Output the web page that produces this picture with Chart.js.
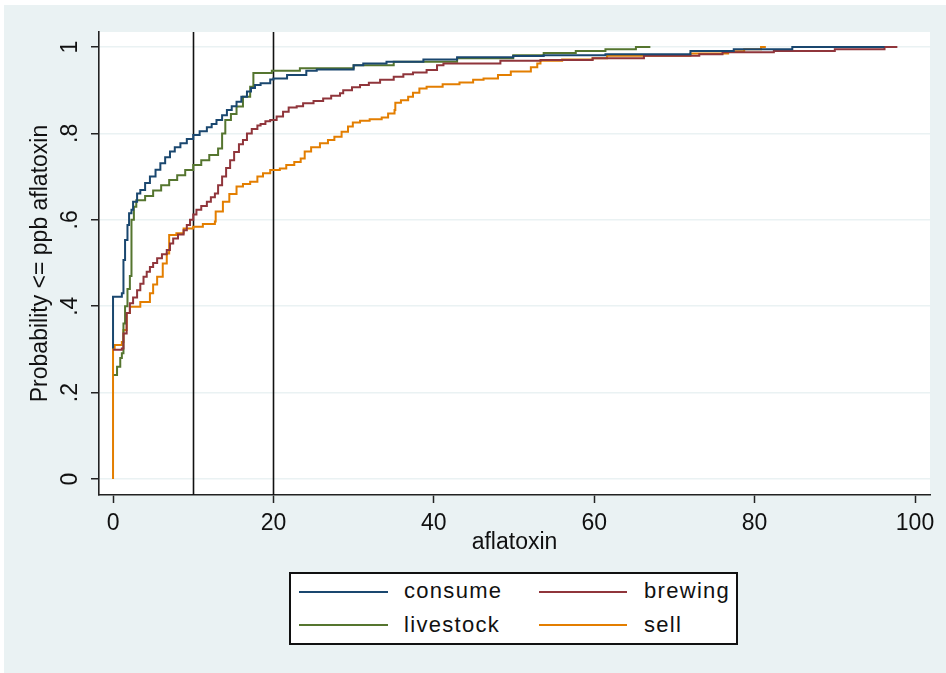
<!DOCTYPE html>
<html lang="en">
<head>
    <meta charset="UTF-8">
    <title>Aflatoxin CDF by use</title>
    <script src="https://cdn.jsdelivr.net/npm/chart.js"></script>
    <style>
        body {
            margin: 0;
            background: #ffffff;
            font-family: "Liberation Sans", Arial, sans-serif;
        }
        .wrap {
            position: absolute;
            left: 4px;
            top: 5px;
            width: 942px;
            height: 668px;
            background: #eaf2f3;
        }
        .legend-box {
            position: absolute;
            left: 285px;
            top: 567px;
            width: 449px;
            height: 73px;
            box-sizing: border-box;
            border: 2px solid #111;
            background: #fff;
        }
        .legend-box .swatch {
            position: absolute;
            height: 2px;
        }
        .legend-box .label {
            position: absolute;
            font-size: 22px;
            line-height: 22px;
            letter-spacing: 1.3px;
            color: #111;
            white-space: nowrap;
        }
    </style>
</head>
<body>
    <div class="wrap">
        <canvas id="cdfChart" width="942" height="668"></canvas>
        <div class="legend-box" id="legend"></div>
    </div>

    <script>
        const FONT = '"Liberation Sans", Arial, sans-serif';

        // axis ticks
        const xTicks = [0, 20, 40, 60, 80, 100];
        const yTicks = [0, 0.2, 0.4, 0.6, 0.8, 1];
        const yTickLabels = ['0', '.2', '.4', '.6', '.8', '1'];
        const xLines = [10, 20];

        // series: [aflatoxin ppb, cumulative probability] at each jump
        const consume = [
            [0, 0.302], [0, 0.422], [1.1, 0.43], [1.3, 0.507], [1.5, 0.553], [1.8, 0.588],
            [2.0, 0.615], [2.3, 0.623], [2.5, 0.642], [3.0, 0.661], [3.4, 0.669], [4.0, 0.685],
            [4.6, 0.70], [5.3, 0.716], [5.9, 0.731], [6.5, 0.745], [7.1, 0.758], [7.7, 0.768],
            [8.4, 0.777], [9.2, 0.787], [10.0, 0.796], [10.8, 0.805], [11.7, 0.814], [12.3, 0.822],
            [12.9, 0.831], [13.6, 0.842], [14.2, 0.854], [14.8, 0.863], [15.4, 0.873], [16.0, 0.885],
            [16.7, 0.897], [17.2, 0.905], [17.7, 0.912], [18.4, 0.916], [19.6, 0.925], [20.0, 0.927],
            [21.7, 0.935], [24.1, 0.945], [25.4, 0.948], [30.0, 0.958], [31.2, 0.962], [34.1, 0.966],
            [38.7, 0.971], [42.9, 0.976], [49.9, 0.979], [53.7, 0.981], [61.4, 0.983], [72.0, 0.991],
            [77.4, 0.995], [84.7, 1.0], [96.2, 1.0]
        ];
        const brewing = [
            [0, 0.299], [1.1, 0.302], [1.3, 0.337], [1.7, 0.384], [2.1, 0.407], [2.5, 0.42],
            [3.0, 0.437], [3.4, 0.452], [3.8, 0.468], [4.2, 0.48], [4.6, 0.491], [5.0, 0.50],
            [5.5, 0.511], [6.1, 0.52], [6.7, 0.530], [7.1, 0.545], [7.5, 0.557], [8.1, 0.566],
            [8.8, 0.576], [9.2, 0.588], [9.6, 0.600], [10.0, 0.612], [10.4, 0.623], [11.0, 0.632],
            [11.7, 0.642], [12.2, 0.652], [12.7, 0.661], [13.1, 0.68], [13.6, 0.70], [14.1, 0.72],
            [14.6, 0.738], [15.1, 0.757], [15.7, 0.775], [16.2, 0.785], [16.7, 0.80], [17.3, 0.81],
            [18.0, 0.818], [18.4, 0.822], [19.0, 0.828], [19.6, 0.831], [20.4, 0.839], [21.2, 0.850],
            [21.9, 0.860], [22.9, 0.863], [23.7, 0.870], [25.0, 0.875], [26.2, 0.881], [27.2, 0.887],
            [28.3, 0.893], [28.7, 0.900], [29.8, 0.907], [30.8, 0.912], [31.9, 0.917], [33.3, 0.924],
            [35.0, 0.931], [36.2, 0.937], [37.4, 0.941], [39.1, 0.947], [40.4, 0.958], [41.2, 0.962],
            [48.3, 0.968], [53.3, 0.970], [59.8, 0.974], [66.2, 0.980], [73.1, 0.983], [76.0, 0.988],
            [82.4, 0.991], [90.0, 0.995], [96.2, 1.0], [97.8, 1.0]
        ];
        const livestock = [
            [0.1, 0.241], [0.5, 0.26], [0.9, 0.28], [1.1, 0.291], [1.3, 0.36], [1.5, 0.40],
            [1.8, 0.44], [2.1, 0.47], [2.3, 0.60], [2.6, 0.63], [2.9, 0.645], [4.0, 0.655],
            [5.0, 0.668], [6.0, 0.680], [7.0, 0.692], [8.0, 0.703], [9.0, 0.715], [10.0, 0.727],
            [11.0, 0.738], [12.0, 0.750], [13.1, 0.765], [13.6, 0.80], [14.0, 0.831], [14.7, 0.845],
            [15.4, 0.862], [16.2, 0.885], [17.1, 0.908], [17.5, 0.94], [19.8, 0.945], [23.3, 0.951],
            [30.0, 0.958], [35.0, 0.966], [42.9, 0.974], [49.9, 0.981], [53.7, 0.986], [57.7, 0.991],
            [61.4, 0.995], [65.2, 1.0], [67.0, 1.0]
        ];
        const sell = [
            [0, 0], [0, 0.302], [0.2, 0.31], [1.1, 0.317], [1.3, 0.345], [1.7, 0.384],
            [2.1, 0.399], [3.4, 0.41], [4.6, 0.43], [5.0, 0.45], [5.5, 0.468], [6.2, 0.499],
            [6.7, 0.522], [7.0, 0.565], [7.9, 0.569], [8.8, 0.580], [10.0, 0.584], [11.2, 0.590],
            [12.7, 0.596], [12.8, 0.619], [13.7, 0.642], [14.5, 0.66], [15.4, 0.677], [16.2, 0.683],
            [17.1, 0.688], [18.0, 0.70], [18.7, 0.708], [19.6, 0.715], [20.8, 0.719], [21.6, 0.727],
            [22.6, 0.734], [23.4, 0.742], [23.9, 0.758], [24.7, 0.768], [25.8, 0.777], [26.8, 0.785],
            [27.6, 0.792], [28.5, 0.804], [29.3, 0.816], [29.9, 0.825], [30.8, 0.829], [32.0, 0.833],
            [33.5, 0.837], [34.3, 0.846], [35.1, 0.854], [35.2, 0.871], [35.9, 0.877], [36.8, 0.885],
            [37.4, 0.894], [38.2, 0.904], [39.1, 0.908], [41.1, 0.914], [43.2, 0.918], [44.9, 0.924],
            [46.2, 0.927], [48.0, 0.935], [49.6, 0.943], [52.1, 0.953], [52.9, 0.962], [53.3, 0.968],
            [56.0, 0.971], [59.8, 0.974], [61.6, 0.980], [72.0, 0.985], [76.7, 0.99], [78.7, 0.995],
            [80.8, 1.0], [81.4, 1.0]
        ];

        const toPoints = rows => rows.map(([x, y]) => ({ x, y }));

        const datasets = [
            { label: 'consume', data: toPoints(consume), borderColor: '#1a476f' },
            { label: 'brewing', data: toPoints(brewing), borderColor: '#90353b' },
            { label: 'livestock', data: toPoints(livestock), borderColor: '#55752f' },
            { label: 'sell', data: toPoints(sell), borderColor: '#e37e00' }
        ].map(d => Object.assign(d, { stepped: true, borderWidth: 2, pointRadius: 0, fill: false }));

        // white plot region
        const plotRegion = {
            id: 'plotRegion',
            beforeDraw(chart) {
                const { ctx, chartArea: a } = chart;
                ctx.save();
                ctx.fillStyle = '#ffffff';
                ctx.fillRect(a.left, a.top, a.right - a.left, a.bottom - a.top);
                ctx.restore();
            }
        };

        // black reference lines at 10 and 20 ppb
        const refLines = {
            id: 'refLines',
            beforeDatasetsDraw(chart) {
                const { ctx, chartArea: a, scales: { x } } = chart;
                ctx.save();
                ctx.strokeStyle = '#111';
                ctx.lineWidth = 1.6;
                xLines.forEach(v => {
                    const px = Math.round(x.getPixelForValue(v)) + 0.5;
                    ctx.beginPath();
                    ctx.moveTo(px, a.top);
                    ctx.lineTo(px, a.bottom);
                    ctx.stroke();
                });
                ctx.restore();
            }
        };

        // Stata style vertical y tick labels
        const yTickText = {
            id: 'yTickText',
            afterDraw(chart) {
                const { ctx, scales: { y } } = chart;
                ctx.save();
                ctx.font = '23px ' + FONT;
                ctx.fillStyle = '#111';
                ctx.textAlign = 'center';
                ctx.textBaseline = 'alphabetic';
                y.ticks.forEach((t, i) => {
                    ctx.save();
                    ctx.translate(y.right - 22, y.getPixelForValue(t.value));
                    ctx.rotate(-Math.PI / 2);
                    ctx.fillText(yTickLabels[i], 0, 0);
                    ctx.restore();
                });
                ctx.restore();
            }
        };

        const chart = new Chart(document.getElementById('cdfChart'), {
            type: 'line',
            data: { datasets },
            options: {
                responsive: false,
                animation: false,
                layout: { padding: { top: 27, right: 16, left: 0, bottom: 0 } },
                plugins: {
                    legend: { display: false },
                    tooltip: { enabled: false }
                },
                scales: {
                    x: {
                        type: 'linear',
                        min: -1.75,
                        max: 101.87,
                        afterBuildTicks: s => { s.ticks = xTicks.map(v => ({ value: v })); },
                        afterFit: s => { s.height = 178; },
                        grid: { drawOnChartArea: false, drawTicks: true, tickLength: 8, tickColor: '#222', tickWidth: 1.5 },
                        border: { display: true, color: '#222', width: 1.6 },
                        ticks: { color: '#111', font: { size: 23, family: FONT }, padding: 7, maxRotation: 0, autoSkip: false },
                        title: {
                            display: true,
                            text: 'aflatoxin',
                            color: '#111',
                            font: { size: 23, family: FONT },
                            padding: { top: 0, bottom: 117 }
                        }
                    },
                    y: {
                        type: 'linear',
                        min: -0.037,
                        max: 1.0347,
                        afterBuildTicks: s => { s.ticks = yTicks.map(v => ({ value: v })); },
                        afterFit: s => { s.width = 95; },
                        grid: { color: '#eaf2f3', lineWidth: 1.5, drawTicks: true, tickLength: 8, tickColor: '#222', tickWidth: 1.5 },
                        border: { display: true, color: '#222', width: 1.6 },
                        ticks: { display: false },
                        title: {
                            display: true,
                            text: 'Probability <= ppb aflatoxin',
                            color: '#111',
                            font: { size: 23, family: FONT },
                            padding: { top: 23, bottom: 0 }
                        }
                    }
                }
            },
            plugins: [plotRegion, refLines, yTickText]
        });

        // legend: 2 columns, row-wise like Stata
        const legend = document.getElementById('legend');
        const colX = [[8, 89, 113], [248, 88, 353]];   // swatch left, swatch width, label left
        const rowY = [[17, 6], [50, 40]];              // swatch top, label top
        chart.data.datasets.forEach((d, i) => {
            const [sx, sw, lx] = colX[i % 2];
            const [sy, ly] = rowY[Math.floor(i / 2)];
            const sw_ = document.createElement('div');
            sw_.className = 'swatch';
            sw_.style.cssText = `left:${sx}px;top:${sy}px;width:${sw}px;background:${d.borderColor}`;
            const lb = document.createElement('div');
            lb.className = 'label';
            lb.style.cssText = `left:${lx}px;top:${ly}px`;
            lb.textContent = d.label;
            legend.appendChild(sw_);
            legend.appendChild(lb);
        });
    </script>
</body>
</html>
